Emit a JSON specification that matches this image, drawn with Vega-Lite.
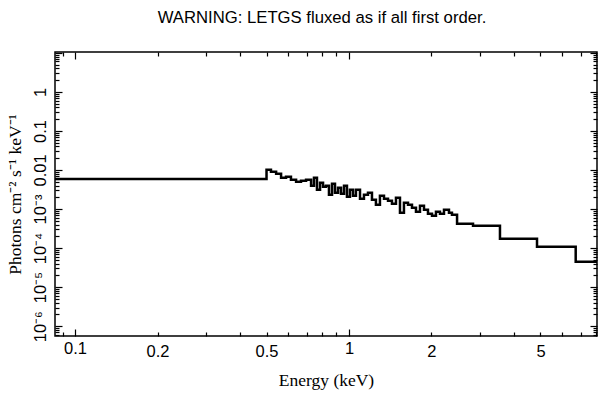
{
  "$schema": "https://vega.github.io/schema/vega-lite/v6.json",
  "width": 542,
  "height": 284,
  "autosize": "none",
  "padding": {"left": 55, "top": 52, "right": 12, "bottom": 63},
  "title": {"text": "WARNING: LETGS fluxed as if all first order.", "font": "Liberation Sans", "fontSize": 16.7, "fontWeight": "normal", "anchor": "middle", "offset": 25, "color": "#000", "dx": -4},
  "config": {
    "view": {"stroke": "#000", "strokeWidth": 1.5},
    "axis": {"domain": false, "grid": false, "tickColor": "#000", "tickWidth": 1.2, "labelColor": "#000", "titleColor": "#000", "labelFont": "Liberation Sans", "labelFontSize": 16.5, "titleFont": "Liberation Serif", "titleFontSize": 17.5, "titleFontWeight": "normal", "labelOverlap": false, "labelFlush": false}
  },
  "data": {"values": [
    {"energy": 0.0845, "flux": 0.00588},
    {"energy": 0.5, "flux": 0.0102},
    {"energy": 0.519, "flux": 0.00904},
    {"energy": 0.542, "flux": 0.00803},
    {"energy": 0.565, "flux": 0.00635},
    {"energy": 0.589, "flux": 0.00673},
    {"energy": 0.614, "flux": 0.00564},
    {"energy": 0.641, "flux": 0.00501},
    {"energy": 0.668, "flux": 0.00532},
    {"energy": 0.697, "flux": 0.00564},
    {"energy": 0.727, "flux": 0.00396},
    {"energy": 0.745, "flux": 0.00635},
    {"energy": 0.764, "flux": 0.00312},
    {"energy": 0.784, "flux": 0.00472},
    {"energy": 0.804, "flux": 0.00373},
    {"energy": 0.824, "flux": 0.00396},
    {"energy": 0.845, "flux": 0.00233},
    {"energy": 0.867, "flux": 0.00445},
    {"energy": 0.889, "flux": 0.00262},
    {"energy": 0.912, "flux": 0.00352},
    {"energy": 0.935, "flux": 0.00247},
    {"energy": 0.959, "flux": 0.00396},
    {"energy": 0.983, "flux": 0.00207},
    {"energy": 1.008, "flux": 0.00312},
    {"energy": 1.034, "flux": 0.00219},
    {"energy": 1.06, "flux": 0.00312},
    {"energy": 1.097, "flux": 0.00184},
    {"energy": 1.134, "flux": 0.00233},
    {"energy": 1.173, "flux": 0.00262},
    {"energy": 1.213, "flux": 0.00173},
    {"energy": 1.254, "flux": 0.00129},
    {"energy": 1.297, "flux": 0.00219},
    {"energy": 1.342, "flux": 0.00184},
    {"energy": 1.388, "flux": 0.00163},
    {"energy": 1.435, "flux": 0.00137},
    {"energy": 1.484, "flux": 0.00195},
    {"energy": 1.535, "flux": 0.000804},
    {"energy": 1.587, "flux": 0.00145},
    {"energy": 1.642, "flux": 0.00129},
    {"energy": 1.698, "flux": 0.00108},
    {"energy": 1.756, "flux": 0.000853},
    {"energy": 1.816, "flux": 0.00122},
    {"energy": 1.878, "flux": 0.000959},
    {"energy": 1.942, "flux": 0.000757},
    {"energy": 2.009, "flux": 0.000673},
    {"energy": 2.077, "flux": 0.000853},
    {"energy": 2.148, "flux": 0.000757},
    {"energy": 2.222, "flux": 0.000959},
    {"energy": 2.317, "flux": 0.000804},
    {"energy": 2.376, "flux": 0.000714},
    {"energy": 2.48, "flux": 0.00042},
    {"energy": 2.836, "flux": 0.000373},
    {"energy": 3.557, "flux": 0.000173},
    {"energy": 4.856, "flux": 0.000108},
    {"energy": 6.722, "flux": 0.0000446},
    {"energy": 8.04, "flux": 0.0000446}
  ]},
  "layer": [
    {
      "mark": {"type": "line", "interpolate": "step-after", "color": "#000", "strokeWidth": 2.5, "clip": true},
      "encoding": {
        "x": {"field": "energy", "type": "quantitative",
          "scale": {"type": "log", "domain": [0.0845, 8.04], "nice": false},
          "axis": {"orient": "bottom", "title": "Energy (keV)",
            "values": [0.09, 0.1, 0.2, 0.3, 0.4, 0.5, 0.6, 0.7, 0.8, 0.9, 1, 2, 3, 4, 5, 6, 7, 8],
            "labelExpr": "indexof([0.1, 0.2, 0.5, 1, 2, 5], datum.value) >= 0 ? format(datum.value, '~g') : ''",
            "tickSize": {"condition": {"test": "datum.value == 0.1 || datum.value == 1", "value": -7}, "value": -4},
            "labelPadding": 11, "titlePadding": 12}},
        "y": {"field": "flux", "type": "quantitative",
          "scale": {"type": "log", "domain": [5.6e-7, 10.5], "nice": false},
          "axis": {"orient": "left", "title": "Photons cm⁻² s⁻¹ keV⁻¹",
            "values": [6e-7, 7e-7, 8e-7, 9e-7, 1e-6, 2e-6, 3e-6, 4e-6, 5e-6, 6e-6, 7e-6, 8e-6, 9e-6, 1e-5, 2e-5, 3e-5, 4e-5, 5e-5, 6e-5, 7e-5, 8e-5, 9e-5, 1e-4, 2e-4, 3e-4, 4e-4, 5e-4, 6e-4, 7e-4, 8e-4, 9e-4, 0.001, 0.002, 0.003, 0.004, 0.005, 0.006, 0.007, 0.008, 0.009, 0.01, 0.02, 0.03, 0.04, 0.05, 0.06, 0.07, 0.08, 0.09, 0.1, 0.2, 0.3, 0.4, 0.5, 0.6, 0.7, 0.8, 0.9, 1, 2, 3, 4, 5, 6, 7, 8, 9, 10],
            "labelExpr": "datum.value == 1 ? '1' : datum.value == 0.1 ? '0.1' : datum.value == 0.01 ? '0.01' : datum.value == 0.001 ? '10⁻³' : datum.value == 1e-4 ? '10⁻⁴' : datum.value == 1e-5 ? '10⁻⁵' : datum.value == 1e-6 ? '10⁻⁶' : ''",
            "tickSize": {"condition": {"test": "datum.value == 1e-6 || datum.value == 1e-5 || datum.value == 1e-4 || datum.value == 0.001 || datum.value == 0.01 || datum.value == 0.1 || datum.value == 1 || datum.value == 10", "value": -7}, "value": -4},
            "labelAngle": 270, "labelAlign": "center", "labelBaseline": "bottom",
            "labelPadding": 14, "titlePadding": 5}}
      }
    },
    {
      "mark": {"type": "line", "interpolate": "step-after", "opacity": 0},
      "encoding": {
        "x": {"field": "energy", "type": "quantitative",
          "scale": {"type": "log", "domain": [0.0845, 8.04], "nice": false},
          "axis": {"orient": "top", "title": null, "labels": false,
            "values": [0.09, 0.1, 0.2, 0.3, 0.4, 0.5, 0.6, 0.7, 0.8, 0.9, 1, 2, 3, 4, 5, 6, 7, 8],
            "tickSize": {"condition": {"test": "datum.value == 0.1 || datum.value == 1", "value": -7}, "value": -4}}},
        "y": {"field": "flux", "type": "quantitative",
          "scale": {"type": "log", "domain": [5.6e-7, 10.5], "nice": false},
          "axis": {"orient": "right", "title": null, "labels": false,
            "values": [6e-7, 7e-7, 8e-7, 9e-7, 1e-6, 2e-6, 3e-6, 4e-6, 5e-6, 6e-6, 7e-6, 8e-6, 9e-6, 1e-5, 2e-5, 3e-5, 4e-5, 5e-5, 6e-5, 7e-5, 8e-5, 9e-5, 1e-4, 2e-4, 3e-4, 4e-4, 5e-4, 6e-4, 7e-4, 8e-4, 9e-4, 0.001, 0.002, 0.003, 0.004, 0.005, 0.006, 0.007, 0.008, 0.009, 0.01, 0.02, 0.03, 0.04, 0.05, 0.06, 0.07, 0.08, 0.09, 0.1, 0.2, 0.3, 0.4, 0.5, 0.6, 0.7, 0.8, 0.9, 1, 2, 3, 4, 5, 6, 7, 8, 9, 10],
            "tickSize": {"condition": {"test": "datum.value == 1e-6 || datum.value == 1e-5 || datum.value == 1e-4 || datum.value == 0.001 || datum.value == 0.01 || datum.value == 0.1 || datum.value == 1 || datum.value == 10", "value": -7}, "value": -4}}}
      }
    }
  ],
  "resolve": {"axis": {"x": "independent", "y": "independent"}}
}
